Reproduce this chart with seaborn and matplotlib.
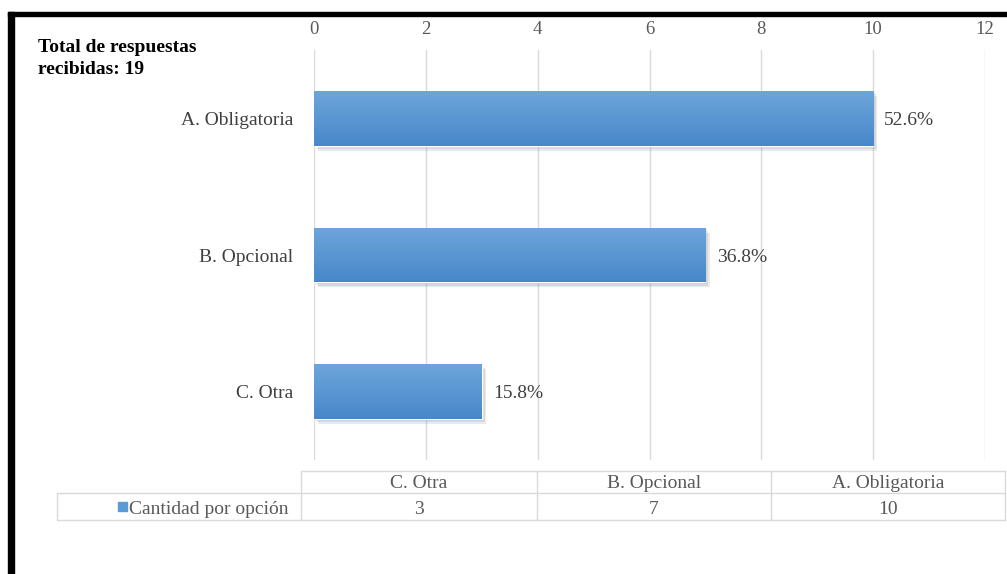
import numpy as np
import pandas as pd
import matplotlib
matplotlib.use("Agg")
import matplotlib.pyplot as plt
import matplotlib.patheffects as pe
from matplotlib.patches import Rectangle
import seaborn as sns

# Survey answers
categories = ["A. Obligatoria", "B. Opcional", "C. Otra"]
counts = [10, 7, 3]
total_responses = 19
series_name = "Cantidad por opción"
title_lines = ["Total de respuestas", f"recibidas: {total_responses}"]
x_ticks = [0, 2, 4, 6, 8, 10, 12]

# Data-table order (bottom to top of the chart)
table_order = ["C. Otra", "B. Opcional", "A. Obligatoria"]

sns.set_theme(style="white")
plt.rcParams["font.family"] = ["Liberation Serif", "DejaVu Serif"]

W, H = 1007, 574
fig = plt.figure(figsize=(W / 100, H / 100), dpi=100)


def fx(px):
    return px / W


def fy(py):
    return 1 - py / H


BAR = "#5B9BD5"
GRID = "#D9D9D9"
TXT = "#595959"
LBL = "#404040"
FS = 14

df = pd.DataFrame({"categoria": categories, "cantidad": counts})

ax = fig.add_axes([fx(314), fy(460), fx(985) - fx(314), (460 - 50) / H])
sns.barplot(data=df, x="cantidad", y="categoria", orient="h", color=BAR,
            width=0.4, saturation=1, ax=ax, zorder=3)

ax.set_xlim(0, 12)
ax.set_xticks(x_ticks)
ax.xaxis.tick_top()
ax.tick_params(axis="x", length=0, pad=9, labelsize=13.5, labelcolor=TXT)
ax.tick_params(axis="y", length=0, pad=15, labelsize=FS, labelcolor=LBL)
ax.set_xlabel("")
ax.set_ylabel("")
for s in ax.spines.values():
    s.set_visible(False)
ax.grid(axis="x", color=GRID, linewidth=1, zorder=0)
ax.grid(axis="y", visible=False)
ylim = ax.get_ylim()

# Vertical gradient fill and soft shadow on each bar
top_c = np.array([0.43, 0.65, 0.86])
bot_c = np.array([0.28, 0.53, 0.79])
grad = np.linspace(0, 1, 256)[:, None, None]
grad_img = top_c * (1 - grad) + bot_c * grad
shadow = [pe.SimplePatchShadow(offset=(o, -o * 1.2), shadow_rgbFace="#808080", alpha=0.16)
          for o in (3, 2, 1)]
for p, v in zip(ax.patches, counts):
    p.set_path_effects(shadow + [pe.Normal()])
    x0, y0 = p.get_x(), p.get_y()
    w, h = p.get_width(), p.get_height()
    im = ax.imshow(grad_img, extent=(x0, x0 + w, y0 + h, y0), origin="upper",
                   aspect="auto", zorder=4, interpolation="bilinear")
    im.set_clip_path(p)
    ax.text(v + 0.2, y0 + h / 2, f"{v / total_responses * 100:.1f}%",
            va="center_baseline", ha="left", fontsize=FS, color=LBL, zorder=5)
ax.set_xlim(0, 12)
ax.set_ylim(ylim)

# Overlay in pixel space: title, data table and frame
ov = fig.add_axes([0, 0, 1, 1], zorder=-1)
ov.set_xlim(0, W)
ov.set_ylim(H, 0)
ov.axis("off")

ov.text(38, 46, title_lines[0], fontsize=FS, fontweight="bold", color="black",
        ha="left", va="center_baseline")
ov.text(38, 67, title_lines[1], fontsize=FS, fontweight="bold", color="black",
        ha="left", va="center_baseline")

# Data table under the chart
col_edges = [301, 537, 771, 1005]
label_left = 57
row_top, row_mid, row_bot = 471, 493, 520
lookup = dict(zip(categories, counts))
ov.plot([col_edges[0], col_edges[-1]], [row_top, row_top], color=GRID, lw=1)
ov.plot([label_left, col_edges[-1]], [row_mid, row_mid], color=GRID, lw=1)
ov.plot([label_left, col_edges[-1]], [row_bot, row_bot], color=GRID, lw=1)
ov.plot([label_left, label_left], [row_mid, row_bot], color=GRID, lw=1)
for xe in col_edges:
    ov.plot([xe, xe], [row_top, row_bot], color=GRID, lw=1)
for i, cat in enumerate(table_order):
    cx = (col_edges[i] + col_edges[i + 1]) / 2
    ov.text(cx, (row_top + row_mid) / 2, cat, fontsize=FS, color=TXT,
            ha="center", va="center_baseline")
    ov.text(cx, (row_mid + row_bot) / 2 + 1, str(lookup[cat]), fontsize=FS, color=TXT,
            ha="center", va="center_baseline")
ov.add_patch(Rectangle((118, 502), 9, 9, color=BAR))
ov.text(129, (row_mid + row_bot) / 2 + 1, series_name, fontsize=FS, color=TXT,
        ha="left", va="center_baseline")

# Black frame on the top and left
ov.add_patch(Rectangle((8, 12), W - 8, 4, color="black"))
ov.add_patch(Rectangle((8, 12), 6, H - 12, color="black"))

fig.savefig("out.png", dpi=100, facecolor="white")
